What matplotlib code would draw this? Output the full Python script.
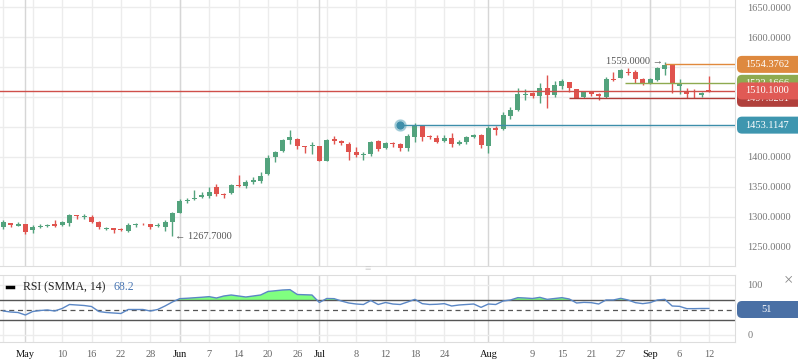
import matplotlib
matplotlib.use('Agg')
import matplotlib.pyplot as plt
from matplotlib.patches import FancyBboxPatch
from matplotlib.lines import Line2D
from matplotlib.transforms import IdentityTransform
import numpy as np

plt.rcParams['font.family'] = ['Liberation Serif', 'DejaVu Serif']

# daily OHLC candles
opens = [1284, 1290, 1285.5, 1288, 1277.5, 1283.5, 1284.5, 1288, 1286.5, 1290.5,
         1303.5, 1300.5, 1300, 1292, 1280.5, 1281.7, 1279.5, 1277, 1286.7, 1289,
         1288, 1285, 1284, 1292, 1307, 1326.7, 1330.5, 1333, 1335, 1350,
         1338.3, 1340.5, 1353.3, 1351, 1359, 1360, 1371, 1400.5, 1410.5, 1428.3,
         1430, 1418, 1418.3, 1418.3, 1394, 1429.5, 1427, 1421.7, 1408.3, 1403.3,
         1404.5, 1426.7, 1415.5, 1423.8, 1421.7, 1414.5, 1434, 1452.2, 1435, 1431.2,
         1426.7, 1431.7, 1421.7, 1424.5, 1432.8, 1436.7, 1419, 1449, 1446.7, 1468.3,
         1478.3, 1503.8, 1507.2, 1502.2, 1515, 1503.8, 1518.8, 1524.5, 1512.8, 1500.5,
         1508.8, 1505.5, 1500.5, 1529.5, 1532.2, 1542.2, 1541.2, 1529.5, 1522.8, 1528.3,
         1546.2, 1553.3, 1518.8, 1508.8, 1507, 1502.8, 1510.5]
highs = [1295, 1290.5, 1291, 1288.5, 1287, 1288, 1289, 1295, 1293, 1305,
         1304, 1305, 1302.5, 1293, 1283.5, 1282, 1281, 1290.5, 1289.5, 1290,
         1288.5, 1290, 1295, 1308.5, 1330, 1332, 1345, 1341, 1350, 1354.5,
         1340, 1354.5, 1370, 1362, 1366, 1374.5, 1403, 1410.5, 1430, 1445,
         1431, 1418.5, 1425.5, 1419, 1430, 1435, 1427.5, 1425.5, 1416.7, 1408,
         1427, 1428, 1424.5, 1424.5, 1423.3, 1438, 1456, 1453, 1437, 1436,
         1436, 1439.5, 1429, 1435, 1439, 1439, 1452, 1452, 1475.5, 1484,
         1514.5, 1513, 1508, 1524, 1536.7, 1526.7, 1530, 1525, 1513.5, 1510.5,
         1509.5, 1507, 1533, 1541.7, 1546.7, 1548, 1545, 1531, 1531, 1550,
         1559, 1554, 1529.5, 1514.5, 1513, 1509, 1535.5]
lows = [1280, 1284, 1285, 1272, 1274, 1282, 1283, 1284, 1285, 1285,
        1297, 1297, 1290, 1280, 1278, 1274, 1276.5, 1275, 1283, 1286.5,
        1279.5, 1282.5, 1277, 1267.7, 1306, 1323, 1328, 1331, 1332, 1335.5,
        1332, 1339, 1350, 1349, 1355, 1356, 1370, 1392, 1409, 1422,
        1413, 1407, 1405, 1393, 1393, 1422, 1420, 1395, 1399.5, 1395,
        1401, 1410, 1413, 1417, 1410, 1410, 1424.5, 1427, 1430, 1423,
        1425, 1417, 1420, 1422, 1431, 1415, 1407, 1437, 1445, 1463,
        1477, 1495, 1499, 1490.5, 1482, 1500.5, 1513, 1508, 1498, 1498,
        1501, 1495, 1498, 1527, 1531, 1536.7, 1523, 1520.5, 1521, 1527,
        1537, 1507, 1504.5, 1499, 1499, 1500, 1509]
closes = [1292, 1286, 1288.5, 1275, 1284, 1285, 1286, 1285, 1291, 1303,
          1302, 1302, 1292, 1283, 1282, 1279, 1278, 1286.5, 1288, 1287.5,
          1284, 1286.5, 1291, 1307, 1326.5, 1328, 1332, 1337, 1341.5, 1338,
          1336.7, 1352.8, 1351.7, 1359, 1362, 1368, 1398, 1408, 1428.3, 1433.3,
          1419, 1416.7, 1420, 1394, 1428.3, 1426.7, 1424, 1408, 1404, 1405,
          1424.5, 1413, 1423.3, 1422.2, 1414.5, 1435, 1453.3, 1434, 1433, 1425,
          1431.7, 1421.7, 1425.5, 1433.8, 1436.7, 1420, 1448, 1445, 1470, 1478.3,
          1505, 1505.5, 1502.2, 1515.5, 1503.8, 1520, 1526.7, 1515.5, 1499, 1508.8,
          1505.5, 1502.2, 1529.5, 1527.8, 1545, 1540.5, 1529.5, 1523.8, 1529.5, 1547.8,
          1553.3, 1521.2, 1522.8, 1504.5, 1506, 1507.2, 1510.1]

rsi = [48, 46, 45, 40, 47, 49, 50, 48, 53, 61,
       60, 59, 57, 47, 45, 44, 43, 51, 51, 51,
       48, 51, 58, 66, 72.7, 73.5, 74.5, 75.5, 76.7, 74,
       78, 80, 78, 76, 78, 80, 87, 88.5, 90, 90.7,
       81, 80.5, 80, 65, 73, 72.7, 68, 64, 62, 61,
       69, 61, 65, 62, 61, 66, 71.3, 62.7, 61, 61.5,
       62.7, 58, 60, 61, 62, 55.3, 62, 61, 68, 70,
       74.7, 74, 73, 75.3, 71.3, 73, 74.7, 72, 64, 65.3,
       64.7, 62, 70, 70, 73.3, 70, 64.7, 62.7, 64.7, 70,
       71.3, 58, 57.3, 52.7, 52.7, 53, 53]

tick_pos = [3, 8, 12, 16, 20, 24, 28, 32, 36, 40, 43, 48, 52, 56, 60, 66, 72, 76, 80, 84, 88, 92, 96]
tick_labels = ['May', '10', '16', '22', '28', 'Jun', '7', '14', '20', '26', 'Jul', '8', '12',
               '18', '24', 'Aug', '9', '15', '21', '27', 'Sep', '6', '12']
month_pos = [3, 24, 43, 66, 88]

# price axis labels that are not hidden behind a tag
price_ticks = [1250, 1300, 1350, 1400, 1600, 1650]

# drawn levels: (value, start index, line colour, tag colour, tag text)
levels = [
    (1522.8, 84.6, '#8eaa50', '#8eaa50', '1522.1666'),
    (1497.8, 77, '#b03c38', '#b0403c', '1497.8281'),
    (1510.1, -1, '#cf4f4a', '#e05a55', '1510.1000'),
    (1554.3762, 90, '#e0893c', '#de893f', '1554.3762'),
    (1453.1147, 54, '#3d8eaa', '#3e96af', '1453.1147'),
]

W, H = 798, 363
UP, DOWN = '#53a37d', '#e0534e'
GRID, MGRID = '#ececec', '#d6d6d6'
XL = (-0.45, 99.55)

fig = plt.figure(figsize=(W / 100, H / 100), dpi=100)
ax = fig.add_axes([0, 1 - 266 / H, 735 / W, 266 / H])
ax2 = fig.add_axes([0, 1 - 342 / H, 735 / W, 67 / H])

idx = np.arange(len(opens))
o, h, l, c = map(np.array, (opens, highs, lows, closes))
col = np.where(c >= o, UP, DOWN)

# ---- main price panel
ax.set_xlim(*XL)
ax.set_ylim(1218.3, 1661.7)
for y in range(1250, 1651, 50):
    ax.axhline(y, color=GRID, lw=1, zorder=0)
for a in (ax, ax2):
    for i in range(0, 97, 4):
        a.axvline(i, color=GRID, lw=1, zorder=0)
    for m in month_pos:
        a.axvline(m, color=MGRID, lw=1, zorder=0)

ax.vlines(idx, l, h, colors=col, lw=1, zorder=2)
ax.bar(idx, np.maximum(np.abs(c - o), 1.3), bottom=np.minimum(o, c), width=0.68,
       color=col, lw=0, zorder=3)

for val, start, lc, tc, txt in levels:
    ax.hlines(val, start, XL[1], colors=lc, lw=1, zorder=4)
ax.plot([54], [1453.1147], 'o', ms=8, color='#3e96af', alpha=0.35, zorder=5)
ax.plot([54], [1453.1147], 'o', ms=5, color='#3e8eaa', zorder=5)

ax.text(89.8, 1559, '1559.0000 \u2192', ha='right', va='center', fontsize=7.5, color='#555555', zorder=6)
ax.text(23.4, 1267.7, '\u2190 1267.7000', ha='left', va='center', fontsize=7.5, color='#555555', zorder=6)

ax.yaxis.tick_right()
ax.set_yticks(price_ticks)
ax.set_yticklabels(['%.4f' % v for v in price_ticks])
ax.tick_params(axis='y', length=0, pad=9, labelsize=7.5, labelcolor='#777777')
ax.tick_params(axis='x', length=0, labelbottom=False)
ax.set_xticks([])
for s in ('left', 'top'):
    ax.spines[s].set_visible(False)
for s in ('right', 'bottom'):
    ax.spines[s].set_color('#dddddd')

# ---- RSI panel
r = np.array(rsi)
ax2.set_xlim(*XL)
ax2.set_ylim(-14, 120)
for y in (0, 100):
    ax2.axhline(y, color=GRID, lw=1, zorder=0)
ax2.fill_between(idx, r, 70, where=r > 70, interpolate=True, color='#80ff80', lw=0, zorder=1)
ax2.axhline(70, color='#555555', lw=1, zorder=2)
ax2.axhline(30, color='#555555', lw=1, zorder=2)
ax2.axhline(50, color='#555555', lw=0.9, ls=(0, (4, 3)), zorder=2)
ax2.plot(idx, r, color='#5b87c5', lw=1, zorder=3)
ax2.yaxis.tick_right()
ax2.set_yticks([0, 100])
ax2.tick_params(axis='y', length=0, pad=9, labelsize=7.5, labelcolor='#777777')
ax2.set_xticks(tick_pos)
ax2.set_xticklabels(tick_labels)
ax2.tick_params(axis='x', length=0, pad=6, labelsize=7.5)
for lab in ax2.get_xticklabels():
    lab.set_color('#111111' if lab.get_text() in ('May', 'Jun', 'Jul', 'Aug', 'Sep') else '#666666')
ax2.spines['left'].set_visible(False)
for s in ('right', 'bottom', 'top'):
    ax2.spines[s].set_color('#dddddd')

# ---- price tags on the right
def tag(axis, value, text, color, z):
    yd = axis.transData.transform((0, value))[1]
    p = FancyBboxPatch((737, yd - 8.5), 75, 17, boxstyle='round,pad=0,rounding_size=5',
                       transform=IdentityTransform(), fc=color, ec='none', zorder=z)
    fig.add_artist(p)
    fig.text(767 / W, yd / H, text, color='white', ha='center', va='center',
             fontsize=7.5, zorder=z + 1)

for k, (val, start, lc, tc, txt) in enumerate(levels):
    tag(ax, val, txt, tc, 10 + 2 * k)
tag(ax2, 51, '51', '#4a70a5', 30)

# legend and small widgets
fig.add_artist(Line2D([7 / W, 13 / W], [1 - 287 / H] * 2, color='black', lw=2.5))
fig.text(23 / W, 1 - 287 / H, 'RSI (SMMA, 14)', fontsize=8.5, va='center', color='#222222')
fig.text(113 / W, 1 - 287 / H, '68.2', fontsize=8.5, va='center', color='#4a77b4')
fig.text(788 / W, 1 - 280 / H, '\u00d7', fontsize=12, ha='center', va='center', color='#888888')
fig.text(368 / W, 1 - 270 / H, '\u2261', fontsize=8, ha='center', va='center', color='#cccccc')

fig.savefig('out.png', dpi=100)
